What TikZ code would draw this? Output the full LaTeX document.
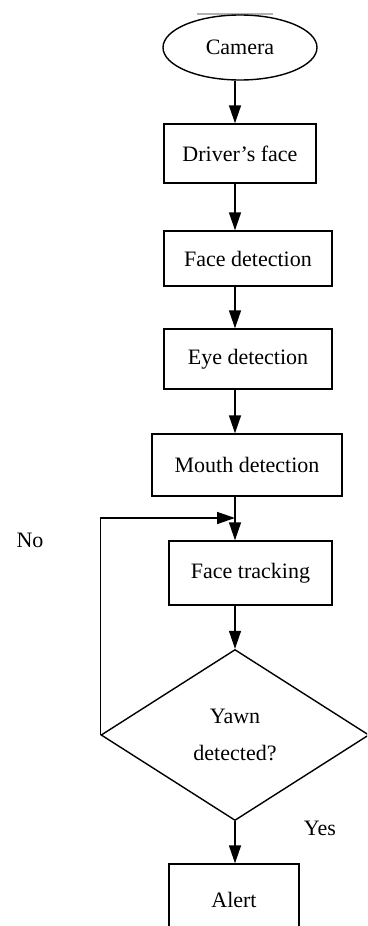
\documentclass[tikz,border=0pt]{standalone}
\usepackage{fontspec}
\setmainfont{Liberation Serif}
\usetikzlibrary{shapes.geometric,arrows.meta}
\begin{document}
\begin{tikzpicture}[x=1pt,y=-1pt,
  every node/.style={font=\fontsize{22}{37}\selectfont},
  line/.style={line width=1.4pt},
  arr/.style={line width=1.4pt,-{Triangle[length=18pt,width=12pt]}},
  box/.style={draw,line width=1.4pt,rectangle,inner sep=0pt},
  oval/.style={draw,line width=1.4pt,ellipse,inner sep=0pt},
  decision/.style={draw,line width=1.4pt,diamond,inner sep=0pt,align=center}]
\path[use as bounding box,clip] (0,0) rectangle (367,926);
\fill[white] (0,0) rectangle (367,926);
\draw[gray!60,line width=1.5pt] (197,14) -- (273,14);
\coordinate (ax) at (235,0);
\node[oval,minimum width=154pt,minimum height=65pt] (cam) at (240,47.5) {Camera};
\node[box,minimum width=152pt,minimum height=59pt] (drv) at (240,153.5) {Driver’s face};
\node[box,minimum width=168pt,minimum height=55pt] (fd) at (248,258.5) {Face detection};
\node[box,minimum width=168pt,minimum height=60pt] (ed) at (248,359) {Eye detection};
\node[box,minimum width=190pt,minimum height=62pt] (md) at (247,465) {Mouth detection};
\node[box,minimum width=163pt,minimum height=64pt] (ft) at (250.5,573) {Face tracking};
\node[decision,minimum width=268pt,minimum height=171pt] (yawn) at (235,735) {Yawn\\detected?};
\node[box,minimum width=130pt,minimum height=72pt] (alert) at (234,900) {Alert};
\node (no) at (30,540) {No};
\node (yes) at (320,828) {Yes};
\coordinate (fb) at (235,518);
\draw[arr] (cam.south -| ax) -- (drv.north -| ax);
\draw[arr] (drv.south -| ax) -- (fd.north -| ax);
\draw[arr] (fd.south -| ax) -- (ed.north -| ax);
\draw[arr] (ed.south -| ax) -- (md.north -| ax);
\draw[arr] (md.south -| ax) -- (ft.north -| ax);
\draw[arr] (ft.south -| ax) -- (yawn.north);
\draw[arr] (yawn.south) -- (alert.north -| yawn.south);
\draw[arr] (yawn.west) -- (yawn.west |- fb) -- (fb);
\end{tikzpicture}
\end{document}
